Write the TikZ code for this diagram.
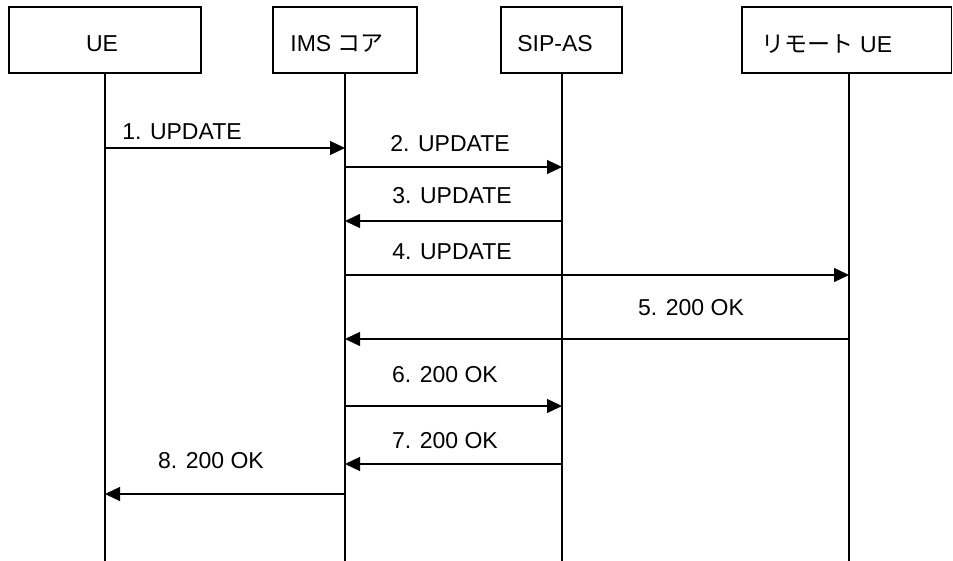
\documentclass[tikz,border=0pt]{standalone}
\usepackage{fontspec}
\setmainfont{Liberation Sans}
\newfontfamily\jp{Noto Sans CJK JP}
\usetikzlibrary{arrows.meta}
\begin{document}
\begin{tikzpicture}[x=1pt,y=-1pt,
  every node/.style={font=\fontsize{23}{27}\selectfont, inner sep=0pt},
  entbox/.style={draw, line width=1.3pt, rectangle},
  lifeline/.style={line width=1.3pt},
  msg/.style={line width=1.3pt, -{Triangle[length=15pt,width=14pt]}},
  lbl/.style={anchor=center}]
\useasboundingbox (0,0) rectangle (953,561);
% boxes
\draw[entbox] (9,7) rectangle (201,73);
\draw[entbox] (273,7) rectangle (417,73);
\draw[entbox] (501,7) rectangle (622,73);
\draw[entbox] (742,7) rectangle (951.5,73);
\node (tue)  at (102,44) {UE};
\node (tims) at (337,44) {IMS {\jp コア}};
\node (tsip) at (555,44) {SIP-AS};
\node (trem) at (827,44) {{\jp リモート} UE};
% lifelines
\coordinate (Tue) at (105,73);  \coordinate (Bue) at (105,561);
\coordinate (Tims) at (345,73); \coordinate (Bims) at (345,561);
\coordinate (Tsip) at (562,73); \coordinate (Bsip) at (562,561);
\coordinate (Trem) at (849,73); \coordinate (Brem) at (849,561);
\draw[lifeline] (Tue) -- (Bue);
\draw[lifeline] (Tims) -- (Bims);
\draw[lifeline] (Tsip) -- (Bsip);
\draw[lifeline] (Trem) -- (Brem);
% message rows
\coordinate (y1) at (0,148);
\coordinate (y2) at (0,167);
\coordinate (y3) at (0,221);
\coordinate (y4) at (0,275);
\coordinate (y5) at (0,339);
\coordinate (y6) at (0,406);
\coordinate (y7) at (0,464);
\coordinate (y8) at (0,494);
\draw[msg] (Tue |- y1) -- (Tims |- y1);
\draw[msg] (Tims |- y2) -- (Tsip |- y2);
\draw[msg] (Tsip |- y3) -- (Tims |- y3);
\draw[msg] (Tims |- y4) -- (Trem |- y4);
\draw[msg] (Trem |- y5) -- (Tims |- y5);
\draw[msg] (Tims |- y6) -- (Tsip |- y6);
\draw[msg] (Tsip |- y7) -- (Tims |- y7);
\draw[msg] (Tims |- y8) -- (Tue |- y8);
% labels
\node[lbl] (l1) at (182,132) {1. UPDATE};
\node[lbl] (l2) at (450,144) {2. UPDATE};
\node[lbl] (l3) at (452,196) {3. UPDATE};
\node[lbl] (l4) at (452,252) {4. UPDATE};
\node[lbl] (l5) at (691,308) {5. 200 OK};
\node[lbl] (l6) at (445,375) {6. 200 OK};
\node[lbl] (l7) at (445,441) {7. 200 OK};
\node[lbl] (l8) at (211,461) {8. 200 OK};
\end{tikzpicture}
\end{document}
